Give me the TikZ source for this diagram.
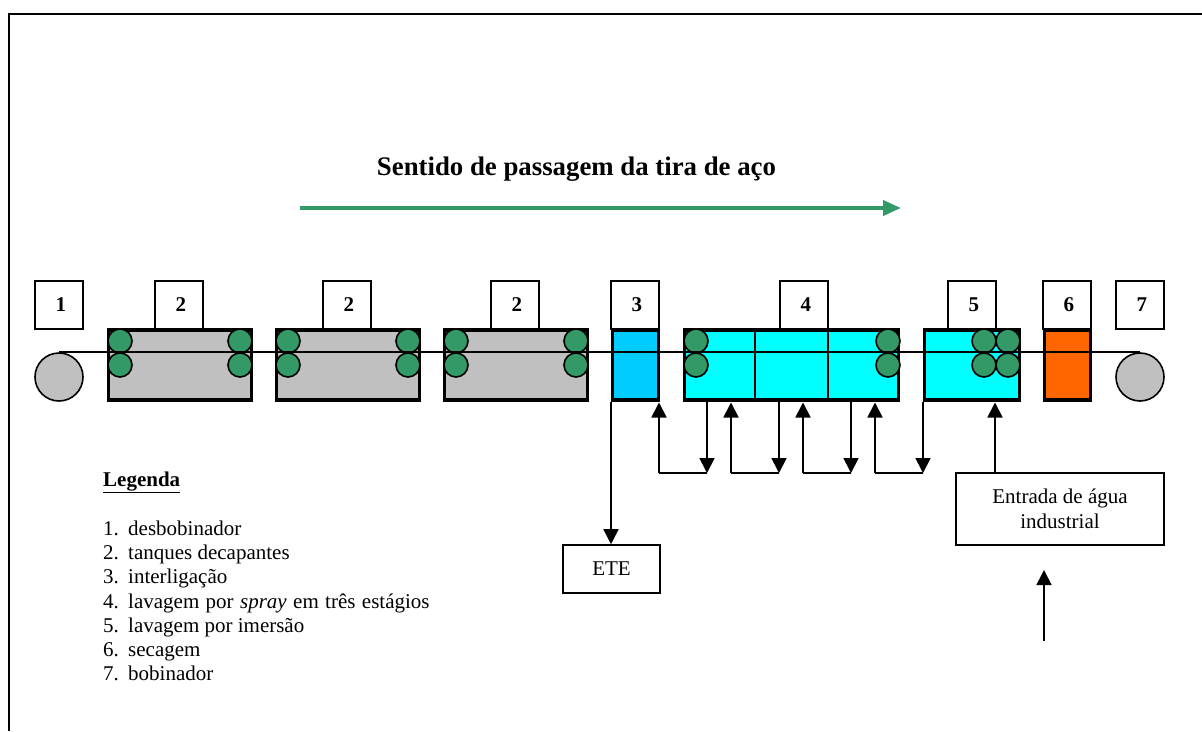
\documentclass[tikz,border=0pt]{standalone}
\usepackage{fontspec}
\setmainfont{Liberation Serif}
\usetikzlibrary{arrows.meta}
\definecolor{rollgreen}{HTML}{339966}
\definecolor{tankgray}{HTML}{C0C0C0}
\definecolor{washcyan}{HTML}{00FFFF}
\definecolor{linkblue}{HTML}{00CCFF}
\definecolor{dryorange}{HTML}{FF6600}
\tikzset{
  x=1pt,y=-1pt,
  numbox/.style={draw,line width=1.6pt,fill=white,minimum width=48pt,minimum height=48pt,inner sep=0pt,font=\fontsize{21}{23}\selectfont\bfseries},
  tank/.style={draw,line width=3.4pt,inner sep=0pt,minimum height=70pt},
  roller/.style={circle,draw,line width=1.6pt,fill=rollgreen,minimum size=24pt,inner sep=0pt},
  coil/.style={circle,draw,line width=1.6pt,fill=tankgray,minimum size=48pt,inner sep=0pt},
  textbox/.style={draw,line width=1.6pt,fill=white,inner sep=0pt,align=center,font=\fontsize{21}{25}\selectfont},
  flow/.style={line width=1.7pt,-{Triangle[length=15pt,width=15pt]}},
  pipe/.style={line width=1.6pt},
  legend/.style={anchor=base west,inner sep=0pt,font=\fontsize{21}{23}\selectfont}
}
\newcommand{\legitem}[2]{\makebox[25pt][l]{#1}#2}
\newcommand{\numtxt}[1]{\hspace*{3.5pt}#1}
\begin{document}
\begin{tikzpicture}
\useasboundingbox (0,0) rectangle (1202,731);
\fill[white] (0,0) rectangle (1202,731);
% frame
\coordinate (fa) at (9,731);
\coordinate (fb) at (9,14);
\coordinate (fc) at (1202,14);
\draw[line width=2.8pt] (fa) -- (fb) -- (fc);
% title
\node[inner sep=0pt,anchor=base,font=\fontsize{26.8}{28}\selectfont\bfseries] (title) at (576.5,175) {Sentido de passagem da tira de aço};
\coordinate (ga) at (300,208);
\coordinate (gb) at (901,208);
\draw[rollgreen,line width=4pt,-{Triangle[length=18pt,width=15pt]}] (ga) -- (gb);
% number boxes
\node[numbox] (n1) at (59,305) {\numtxt{1}};
\node[numbox] (n2a) at (179,305) {\numtxt{2}};
\node[numbox] (n2b) at (347,305) {\numtxt{2}};
\node[numbox] (n2c) at (515,305) {\numtxt{2}};
\node[numbox] (n3) at (635,305) {\numtxt{3}};
\node[numbox] (n4) at (804,305) {\numtxt{4}};
\node[numbox] (n5) at (972,305) {\numtxt{5}};
\node[numbox] (n6) at (1067,305) {\numtxt{6}};
\node[numbox] (n7) at (1140,305) {\numtxt{7}};
% tanks
\node[tank,fill=tankgray,minimum width=143pt] (t2a) at (180,365) {};
\node[tank,fill=tankgray,minimum width=143pt] (t2b) at (348,365) {};
\node[tank,fill=tankgray,minimum width=143pt] (t2c) at (516,365) {};
\node[tank,fill=linkblue,minimum width=46pt] (t3) at (635.5,365) {};
\node[tank,fill=washcyan,minimum width=214pt] (t4) at (791.5,365) {};
\node[tank,fill=washcyan,minimum width=95pt] (t5) at (972,365) {};
\node[tank,fill=dryorange,minimum width=46pt] (t6) at (1067.5,365) {};
% dividers of tank 4
\coordinate (d1t) at (755,330); \coordinate (d1b) at (755,400);
\coordinate (d2t) at (828,330); \coordinate (d2b) at (828,400);
\draw[pipe] (d1t) -- (d1b);
\draw[pipe] (d2t) -- (d2b);
% rollers
\foreach \nm/\x in {a/120,b/240,c/288,d/408,e/456,f/576,g/696,h/888,i/984,j/1008}{
  \node[roller] (r\nm u) at (\x,341) {};
  \node[roller] (r\nm l) at (\x,365) {};
}
% coils
\node[coil] (c1) at (59,377) {};
\node[coil] (c7) at (1140,377) {};
% strip
\draw[line width=1.8pt,yshift=-0.5pt] (c1.north) -- (c7.north);
% cascade
\coordinate (a1) at (659,473);
\coordinate (a2) at (707,473);
\coordinate (a3) at (731,473);
\coordinate (a4) at (779,473);
\coordinate (a5) at (803,473);
\coordinate (a6) at (851,473);
\coordinate (a7) at (875,473);
\coordinate (a8) at (923,473);
\foreach \x in {659,731,803,875}{\coordinate (u\x) at (\x,402.5);}
\foreach \x in {707,779,851,923}{\coordinate (v\x) at (\x,402);}
\draw[pipe] (a1) -- (a2);
\draw[pipe] (a3) -- (a4);
\draw[pipe] (a5) -- (a6);
\draw[pipe] (a7) -- (a8);
\draw[flow] (a1) -- (u659);
\draw[flow] (a3) -- (u731);
\draw[flow] (a5) -- (u803);
\draw[flow] (a7) -- (u875);
\draw[flow] (v707) -- (a2);
\draw[flow] (v779) -- (a4);
\draw[flow] (v851) -- (a6);
\draw[flow] (v923) -- (a8);
% ETE
\node[textbox,minimum width=97pt,minimum height=48pt] (ete) at (611.5,569) {ETE};
\coordinate (e3) at (611,402);
\draw[flow] (e3) -- (e3 |- ete.north);
% water
\node[textbox,minimum width=208pt,minimum height=72pt] (agua) at (1060,509) {Entrada de água\\industrial};
\coordinate (w5) at (995,402.5);
\draw[flow] (w5 |- agua.north) -- (w5);
\coordinate (fa1) at (1044,641);
\coordinate (fa2) at (1044,570);
\draw[flow] (fa1) -- (fa2);
% legend
\node[legend,font=\fontsize{21}{23}\selectfont\bfseries] (lg) at (103,486) {\underline{Legenda}};
\node[legend] (l1) at (103,535) {\legitem{1.}{desbobinador}};
\node[legend] (l2) at (103,559) {\legitem{2.}{tanques decapantes}};
\node[legend] (l3) at (103,583) {\legitem{3.}{interligação}};
\node[legend] (l4) at (103,608) {\legitem{4.}{\spaceskip=6.4pt lavagem por \textit{spray} em três estágios}};
\node[legend] (l5) at (103,632) {\legitem{5.}{lavagem por imersão}};
\node[legend] (l6) at (103,656) {\legitem{6.}{secagem}};
\node[legend] (l7) at (103,680) {\legitem{7.}{bobinador}};
\end{tikzpicture}
\end{document}
